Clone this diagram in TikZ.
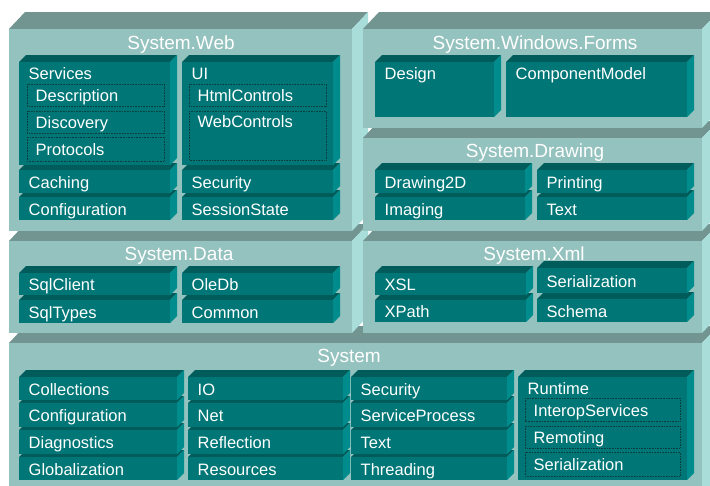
\documentclass[tikz,border=0pt]{standalone}
\usepackage{fontspec}
\setmainfont{Liberation Sans}
\definecolor{pfront}{HTML}{94C2BE}
\definecolor{ptop}{HTML}{729592}
\definecolor{pside}{HTML}{A8DDD9}
\definecolor{ifront}{HTML}{007676}
\definecolor{itop}{HTML}{005B5B}
\definecolor{iside}{HTML}{008C8C}
\definecolor{dotcol}{HTML}{0B3F3F}
\tikzset{
  lbl/.style={text=white, font=\fontsize{16.5}{18}\selectfont, inner sep=0pt, anchor=base west},
  ttl/.style={text=white, font=\fontsize{19}{22}\selectfont, inner sep=0pt, anchor=base},
  dotbox/.style={draw=dotcol, line width=0.6pt, dash pattern=on 0.7pt off 0.9pt},
}
% panel: x0 y0 x1 y1 (front face, y downwards)
\newcommand\panelbox[4]{%
  \fill[ptop] (#1,#2) -- ++(16,-17) -- (#3+16,#2-17) -- (#3,#2) -- cycle;
  \fill[pside] (#3,#2) -- (#3+16,#2-17) -- (#3+16,#4-17) -- (#3,#4) -- cycle;
  \fill[pfront] (#1,#2) rectangle (#3,#4);
}
\newcommand\innershape[4]{%
  \fill[itop] (#1,#2) -- ++(7,-7) -- (#3+7,#2-7) -- (#3,#2) -- cycle;
  \fill[iside] (#3,#2) -- (#3+7,#2-7) -- (#3+7,#4-7) -- (#3,#4) -- cycle;
  \fill[ifront] (#1,#2) rectangle (#3,#4);
}
% single-line inner box: name x0 y0 x1 y1 text
\newcommand\ibox[6]{%
  \innershape{#2}{#3}{#4}{#5}
  \node[lbl] (#1) at (#2+9.5,{(#3+#5)/2+6.5}) {#6};
}
% tall inner box, label at top
\newcommand\tbox[6]{%
  \innershape{#2}{#3}{#4}{#5}
  \node[lbl] (#1) at (#2+9.5,#3+17) {#6};
}
% dotted sub box
\newcommand\dbox[6]{%
  \draw[dotbox] (#2,#3) rectangle (#4,#5);
  \node[lbl] (#1) at (#2+8.5,{(#3+#5)/2+6.5}) {#6};
}
\newcommand\dtallbox[6]{%
  \draw[dotbox] (#2,#3) rectangle (#4,#5);
  \node[lbl] (#1) at (#2+8.5,#3+16.5) {#6};
}
\begin{document}
\begin{tikzpicture}[x=1pt,y=-1pt]
\useasboundingbox (0,0) rectangle (710,485);
\fill[white] (0,0) rectangle (710,485);

% ---------- System ----------
\panelbox{9}{343}{702}{500}
\node[ttl] (t-system) at (349,362.5) {System};
\ibox{globalization}{19}{457}{177}{480}{Globalization}
\ibox{diagnostics}{19}{430}{177}{454}{Diagnostics}
\ibox{configuration2}{19}{403}{177}{427}{Configuration}
\ibox{collections}{19}{377}{177}{400}{Collections}
\ibox{resources}{188}{457}{343}{480}{Resources}
\ibox{reflection}{188}{430}{343}{454}{Reflection}
\ibox{net}{188}{403}{343}{427}{Net}
\ibox{io}{188}{377}{343}{400}{IO}
\ibox{threading}{351}{457}{507}{480}{Threading}
\ibox{text2}{351}{430}{507}{454}{Text}
\ibox{serviceprocess}{351}{403}{507}{427}{ServiceProcess}
\ibox{security2}{351}{377}{507}{400}{Security}
\tbox{runtime}{518}{377}{687}{480}{Runtime}
\dbox{interop}{525}{398}{680}{421}{InteropServices}
\dbox{remoting}{525}{426}{680}{448}{Remoting}
\dbox{serialization2}{525}{452}{680}{476}{Serialization}

% ---------- System.Data ----------
\panelbox{9}{241}{352}{333}
\node[ttl] (t-data) at (179,260) {System.Data};
\ibox{sqltypes}{19}{300}{170}{323}{SqlTypes}
\ibox{sqlclient}{19}{273}{170}{295}{SqlClient}
\ibox{common}{182}{300}{333}{323}{Common}
\ibox{oledb}{182}{273}{333}{295}{OleDb}

% ---------- System.Web ----------
\panelbox{9}{29}{352}{231}
\node[ttl] (t-web) at (181,49) {System.Web};
\ibox{configuration}{19}{197}{170}{220}{Configuration}
\ibox{caching}{19}{170}{170}{193}{Caching}
\tbox{services}{19}{62}{170}{165}{Services}
\dbox{description}{27}{84}{164}{106}{Description}
\dbox{discovery}{27}{111}{164}{133}{Discovery}
\dbox{protocols}{27}{137}{164}{161}{Protocols}
\ibox{sessionstate}{182}{197}{333}{220}{SessionState}
\ibox{security}{182}{170}{333}{193}{Security}
\tbox{ui}{182}{62}{333}{165}{UI}
\dbox{htmlcontrols}{189}{84}{326}{106}{HtmlControls}
\dtallbox{webcontrols}{189}{111}{326}{160}{WebControls}

% ---------- System.Xml ----------
\panelbox{363}{241}{702}{333}
\node[ttl] (t-xml) at (534,260) {System.Xml};
\ibox{xpath}{375}{300}{526}{322}{XPath}
\ibox{xsl}{375}{273}{526}{295}{XSL}
\ibox{schema}{537}{299}{687}{322}{Schema}
\ibox{serialization}{537}{268}{687}{293}{Serialization}

% ---------- System.Drawing ----------
\panelbox{363}{138}{702}{231}
\node[ttl] (t-drawing) at (535,157) {System.Drawing};
\ibox{imaging}{375}{197}{525}{220}{Imaging}
\ibox{drawing2d}{375}{170}{525}{193}{Drawing2D}
\ibox{text}{537}{197}{687}{220}{Text}
\ibox{printing}{537}{170}{687}{193}{Printing}

% ---------- System.Windows.Forms ----------
\panelbox{363}{29}{702}{128}
\node[ttl] (t-forms) at (535,49) {System.Windows.Forms};
\tbox{design}{375}{62}{494}{117}{Design}
\tbox{componentmodel}{506}{62}{687}{117}{ComponentModel}
\end{tikzpicture}
\end{document}
